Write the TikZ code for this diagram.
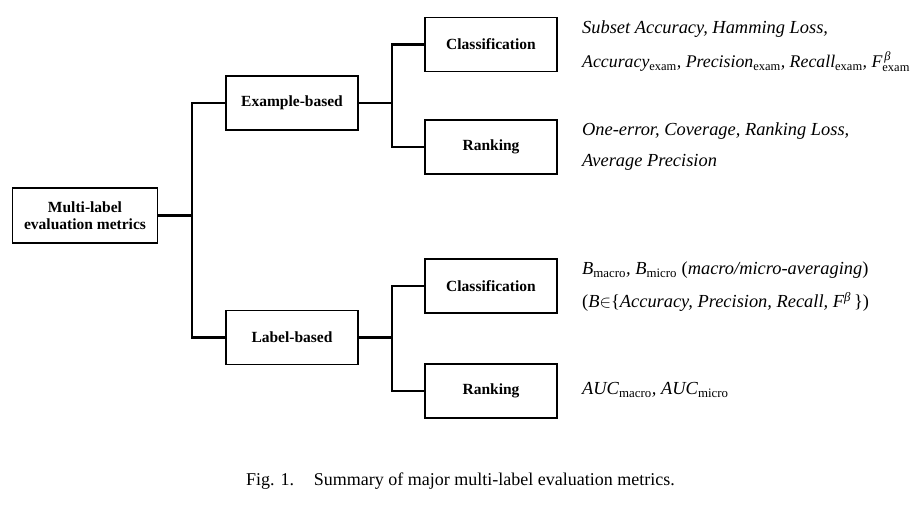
\documentclass[tikz,border=0pt]{standalone}
\usepackage{amsmath}
\usepackage{fontspec}
\setmainfont{Liberation Serif}
\begin{document}
\begin{tikzpicture}[x=1pt,y=-1pt,
  box/.style={draw,line width=1.8pt,minimum width=132pt,minimum height=54pt,inner sep=0pt,align=center,font=\fontsize{15.5}{18}\selectfont\bfseries},
  conn/.style={line width=2.2pt},
  metric/.style={anchor=west,inner sep=0pt,font=\fontsize{18.4}{20}\selectfont\itshape}]
\useasboundingbox (0,0) rectangle (918,505);
\node[box,minimum width=145pt,minimum height=55pt] (root) at (85,215.5) {Multi-label\\[-1pt]evaluation metrics};
\node[box] (ex) at (292,103) {Example-based};
\node[box] (lb) at (292,337.5) {Label-based};
\node[box] (exc) at (491,44.5) {Classification};
\node[box] (exr) at (491,147) {Ranking};
\node[box] (lbc) at (491,286) {Classification};
\node[box] (lbr) at (491,391) {Ranking};
\coordinate (j1) at (192,215.5);
\coordinate (j2) at (392,103);
\coordinate (j3) at (392,337.5);
\draw[conn] (root.east) -- (j1);
\draw[conn] (ex.west) -| (j1) |- (lb.west);
\draw[conn] (ex.east) -- (j2);
\draw[conn] (exc.west) -| (j2) |- (exr.west);
\draw[conn] (lb.east) -- (j3);
\draw[conn] (lbc.west) -| (j3) |- (lbr.west);
\node[metric] (m1) at (582,29) {Subset Accuracy, Hamming Loss,};
\node[metric,font=\fontsize{17.8}{20}\selectfont\itshape] (m2) at (582,62) {Accuracy\textup{\textsubscript{exam}}, Precision\textup{\textsubscript{exam}}, Recall\textup{\textsubscript{exam}}, $\text{\itshape F}^{\,\text{\itshape β}}_{\text{\upshape exam}}$};
\node[metric] (m3) at (582,131) {One-error, Coverage, Ranking Loss,};
\node[metric] (m4) at (582,162) {Average Precision};
\node[metric] (m5) at (582,270) {B\textup{\textsubscript{macro}}, B\textup{\textsubscript{micro}} \textup{(}macro/micro-averaging\textup{)}};
\node[metric] (m6) at (582,302) {\textup{(}B$\in$\textup{\{}Accuracy, Precision, Recall, F\textsuperscript{β}\,\textup{\})}};
\node[metric] (m7) at (582,390) {AUC\textup{\textsubscript{macro}}, AUC\textup{\textsubscript{micro}}};
\node[inner sep=0pt,font=\fontsize{18}{20}\selectfont] (cap) at (460.5,481) {Fig. 1.\hspace{1.1em}Summary of major multi-label evaluation metrics.};
\end{tikzpicture}
\end{document}
